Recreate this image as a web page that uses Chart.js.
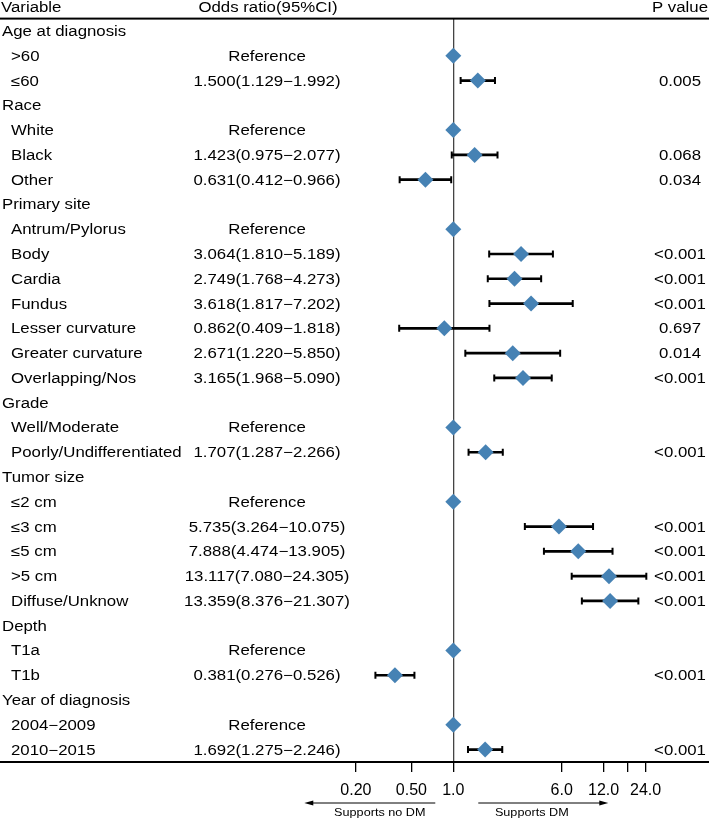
<!DOCTYPE html>
<html>
<head>
<meta charset="utf-8">
<script src="https://cdn.jsdelivr.net/npm/chart.js@4.4.1/dist/chart.umd.min.js"></script>
<style>
html,body{margin:0;padding:0;background:#fff;}
canvas{display:block;}
</style>
</head>
<body>
<canvas id="c" width="709" height="821"></canvas>
<script>
// ---- data ----
const variables = ["Age at diagnosis", ">60", "≤60", "Race", "White", "Black", "Other",
  "Primary site", "Antrum/Pylorus", "Body", "Cardia", "Fundus", "Lesser curvature", "Greater curvature", "Overlapping/Nos",
  "Grade", "Well/Moderate", "Poorly/Undifferentiated",
  "Tumor size", "≤2 cm", "≤3 cm", "≤5 cm", ">5 cm", "Diffuse/Unknow",
  "Depth", "T1a", "T1b",
  "Year of diagnosis", "2004−2009", "2010−2015"];
const isGroup = [1,0,0,1,0,0,0,1,0,0,0,0,0,0,0,1,0,0,1,0,0,0,0,0,1,0,0,1,0,0];
const oddsRatio = [null, 1, 1.500, null, 1, 1.423, 0.631, null, 1, 3.064, 2.749, 3.618, 0.862, 2.671, 3.165,
  null, 1, 1.707, null, 1, 5.735, 7.888, 13.117, 13.359, null, 1, 0.381, null, 1, 1.692];
const ciLower = [null, null, 1.129, null, null, 0.975, 0.412, null, null, 1.810, 1.768, 1.817, 0.409, 1.220, 1.968,
  null, null, 1.287, null, null, 3.264, 4.474, 7.080, 8.376, null, null, 0.276, null, null, 1.275];
const ciUpper = [null, null, 1.992, null, null, 2.077, 0.966, null, null, 5.189, 4.273, 7.202, 1.818, 5.850, 5.090,
  null, null, 2.266, null, null, 10.075, 13.905, 24.305, 21.307, null, null, 0.526, null, null, 2.246];
const pValues = ["", "", "0.005", "", "", "0.068", "0.034", "", "", "<0.001", "<0.001", "<0.001", "0.697", "0.014", "<0.001",
  "", "", "<0.001", "", "", "<0.001", "<0.001", "<0.001", "<0.001", "", "", "<0.001", "", "", "<0.001"];
const xTicks = [0.2, 0.5, 1, 6, 12, 18, 24];
const xTickLabels = ["0.20", "0.50", "1.0", "6.0", "12.0", "", "24.0"];
const headers = ["Variable", "Odds ratio(95%CI)", "P value"];
const arrowLabels = ["Supports no DM", "Supports DM"];

// ---- derived ----
const orText = oddsRatio.map((v, i) => {
  if (v === null) return "";
  if (ciLower[i] === null) return "Reference";
  return v.toFixed(3) + "(" + ciLower[i].toFixed(3) + "−" + ciUpper[i].toFixed(3) + ")";
});
const diamonds = [], bars = [], caps = [];
oddsRatio.forEach((v, i) => {
  if (v !== null) diamonds.push({x: v, y: i});
  if (ciLower[i] !== null) {
    bars.push({x: [ciLower[i], ciUpper[i]], y: i});
    caps.push({x: ciLower[i], y: i});
    caps.push({x: ciUpper[i], y: i});
  }
});

const FONT = '"Liberation Sans", Arial, Helvetica, sans-serif';
function txt(ctx, s, x, y, align, size, sx) {
  ctx.save();
  ctx.font = size + 'px ' + FONT;
  ctx.textAlign = align;
  ctx.textBaseline = 'alphabetic';
  ctx.fillStyle = '#000';
  ctx.translate(x, y);
  ctx.scale(sx, 1);
  ctx.fillText(s, 0, 0);
  ctx.restore();
}

const forestText = {
  id: 'forestText',
  afterDraw(chart) {
    const {ctx, chartArea} = chart;
    const ys = chart.scales.y, xs = chart.scales.x;
    ctx.save();
    // top rule
    ctx.fillStyle = '#000';
    ctx.fillRect(0, chartArea.top - 1, chart.width, 2);
    // headers
    const SX = 1.2, FS = 14;
    txt(ctx, headers[0], 1, 12, 'left', FS, SX);
    txt(ctx, headers[1], 268, 12, 'center', FS, SX);
    txt(ctx, headers[2], 708, 12, 'right', FS, SX);
    // rows
    variables.forEach((name, i) => {
      const y = ys.getPixelForValue(i) + 5;
      txt(ctx, name, isGroup[i] ? 2 : 11, y, 'left', FS, SX);
      if (orText[i]) txt(ctx, orText[i], 267, y, 'center', FS, SX);
      if (pValues[i]) txt(ctx, pValues[i], 680, y, 'center', FS, SX);
    });
    // arrows
    const x1 = xs.getPixelForValue(1);
    const ay = 803;
    ctx.strokeStyle = '#000';
    ctx.lineWidth = 1;
    ctx.beginPath();
    ctx.moveTo(x1 - 142, ay); ctx.lineTo(x1 - 18, ay);
    ctx.moveTo(x1 + 25, ay); ctx.lineTo(x1 + 148, ay);
    ctx.stroke();
    ctx.beginPath();
    ctx.moveTo(x1 - 149, ay); ctx.lineTo(x1 - 140, ay - 2.5); ctx.lineTo(x1 - 140, ay + 2.5); ctx.closePath();
    ctx.moveTo(x1 + 155, ay); ctx.lineTo(x1 + 146, ay - 2.5); ctx.lineTo(x1 + 146, ay + 2.5); ctx.closePath();
    ctx.fill();
    txt(ctx, arrowLabels[0], x1 - 73.5, 816, 'center', 11.5, 1.1);
    txt(ctx, arrowLabels[1], x1 + 78.5, 816, 'center', 11.5, 1.1);
    ctx.restore();
  }
};

Chart.defaults.font.family = FONT;
new Chart(document.getElementById('c'), {
  type: 'scatter',
  data: {
    datasets: [
      {type: 'bar', indexAxis: 'y', data: bars, backgroundColor: '#000', borderWidth: 0, barThickness: 2, order: 2},
      {type: 'scatter', data: caps, pointStyle: 'line', rotation: 90, radius: 3.5, borderColor: '#000', borderWidth: 2, order: 1},
      {type: 'scatter', data: diamonds, pointStyle: 'rectRot', radius: 8, backgroundColor: '#4682b4', borderColor: '#4682b4', borderWidth: 0, order: 0}
    ]
  },
  options: {
    responsive: false,
    devicePixelRatio: 1,
    animation: false,
    events: [],
    layout: {autoPadding: false, padding: {top: 18.6, left: 0, right: 0, bottom: 0}},
    plugins: {legend: {display: false}, tooltip: {enabled: false}},
    scales: {
      x: {
        type: 'logarithmic',
        offset: false,
        min: 0.000557,
        max: 68.5,
        afterBuildTicks: s => { s.ticks = xTicks.map(v => ({value: v})); },
        afterFit: s => { s.height = 59; },
        ticks: {
          callback: (v, i) => xTickLabels[i],
          autoSkip: false, maxRotation: 0, minRotation: 0,
          color: '#000', padding: 9,
          font: {family: FONT, size: 16}
        },
        grid: {
          offset: false,
          color: c => (c.tick && c.tick.value === 1) ? '#444' : 'rgba(0,0,0,0)',
          lineWidth: 1.3,
          tickColor: '#000',
          tickWidth: 1.3,
          tickLength: 10,
          drawOnChartArea: true
        },
        border: {display: true, color: '#000', width: 2}
      },
      y: {
        type: 'linear', reverse: true, min: -0.5, max: 29.5, display: false,
        offset: false, grace: 0
      }
    }
  },
  plugins: [forestText]
});
</script>
</body>
</html>
